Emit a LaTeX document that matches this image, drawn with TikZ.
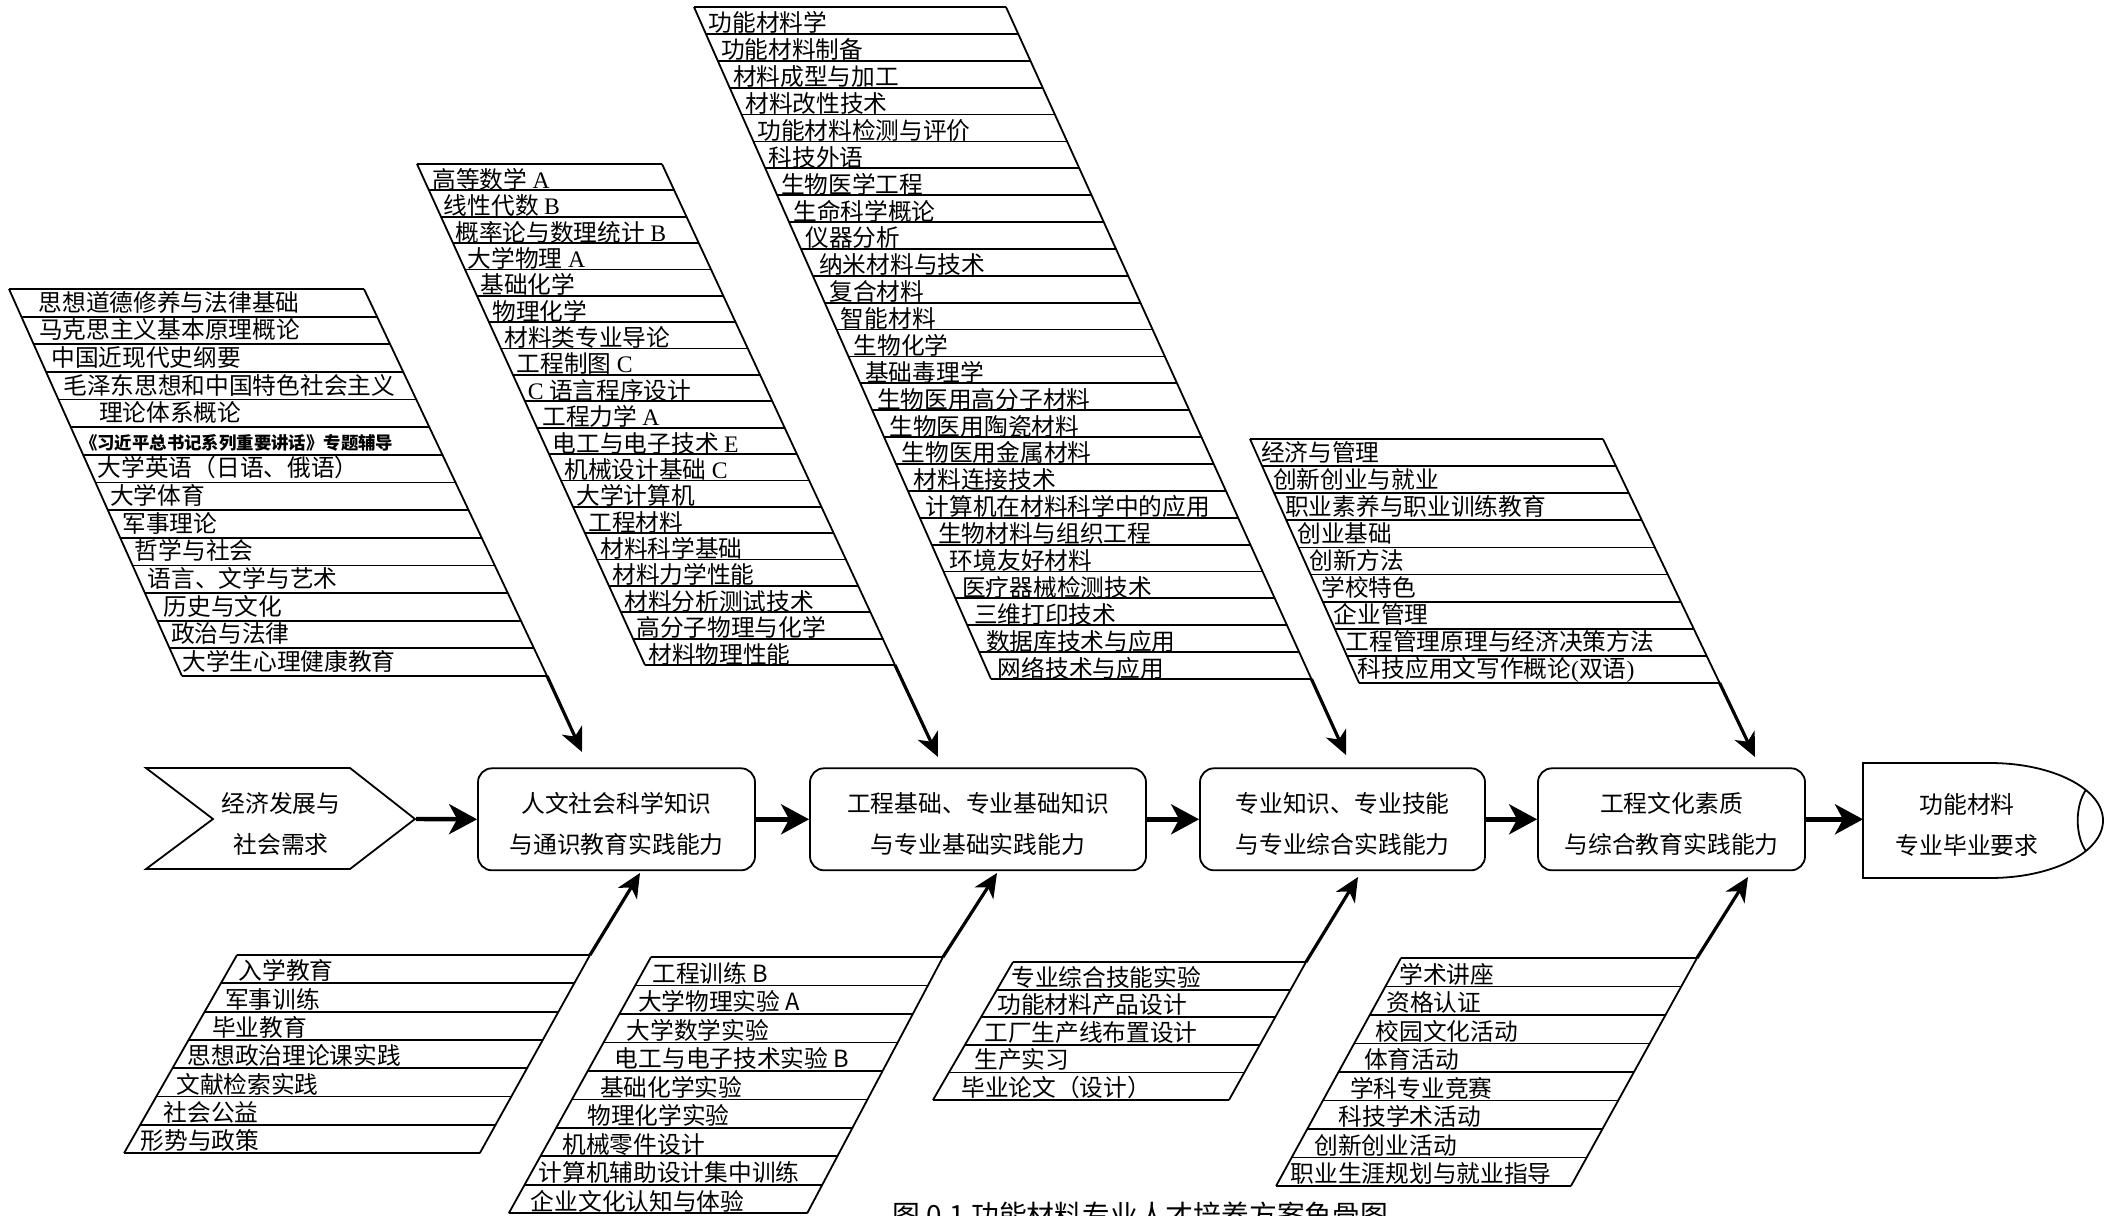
\documentclass[tikz,border=0pt]{standalone}
\usepackage{fontspec}
\setmainfont{Liberation Serif}
\newfontfamily\cjk{Noto Sans CJK SC}
\usetikzlibrary{arrows.meta}
\newcommand\lat[1]{{\rmfamily #1}}
\newcommand\gbase{3}
\newcommand\lowstrut{\rule{0pt}{14.5pt}}
% #1 name #2 TLx #3 TRx #4 ytop #5 left slope #6 right slope #7 row height #8 rows #9 list
\newcommand\TopGroup[9]{%
  \draw[edge] (#2,#4) coordinate (#1tl) -- (#3,#4) coordinate (#1tr);
  \foreach \t/\dx [count=\i] in {#9} {%
    \pgfmathsetmacro\yb{#4+\i*#7}%
    \pgfmathsetmacro\xl{#2+#5*\i*#7}%
    \pgfmathsetmacro\xr{#3+#6*\i*#7}%
    \draw[edge] (\xl,\yb) -- (\xr,\yb);
    \node[rowtxt] (#1r\i) at ({\xl+(\dx)},{\yb-\gbase}) {\t};
  }%
  \pgfmathsetmacro\yb{#4+#8*#7}%
  \pgfmathsetmacro\xl{#2+#5*#8*#7}%
  \pgfmathsetmacro\xr{#3+#6*#8*#7}%
  \draw[edge] (#1tl) -- (\xl,\yb) coordinate (#1bl);
  \draw[edge] (#1tr) -- (\xr,\yb) coordinate (#1br);
}
\newcommand\BotGroup[9]{%
  \draw[edge] (#2,#4) coordinate (#1tl) -- (#3,#4) coordinate (#1tr);
  \foreach \t/\dx [count=\i] in {#9} {%
    \pgfmathsetmacro\yb{#4+\i*#7}%
    \pgfmathsetmacro\xl{#2-#5*\i*#7}%
    \pgfmathsetmacro\xr{#3-#6*\i*#7}%
    \pgfmathsetmacro\xt{#2-#5*(\i-1)*#7}%
    \draw[edge] (\xl,\yb) -- (\xr,\yb);
    \node[rowtxt] (#1r\i) at ({\xt+(\dx)},{\yb-\gbase}) {\t};
  }%
  \pgfmathsetmacro\yb{#4+#8*#7}%
  \pgfmathsetmacro\xl{#2-#5*#8*#7}%
  \pgfmathsetmacro\xr{#3-#6*#8*#7}%
  \draw[edge] (#1tl) -- (\xl,\yb) coordinate (#1bl);
  \draw[edge] (#1tr) -- (\xr,\yb) coordinate (#1br);
}
\begin{document}
\begin{tikzpicture}[x=0.5pt,y=-0.5pt,
  edge/.style={line width=0.9pt},
  rowtxt/.style={anchor=base west, inner sep=0pt, font=\cjk\fontsize{11.85}{12}\selectfont},
  box/.style={draw, line width=0.9pt, rounded corners=7pt, align=center, inner sep=0pt,
    minimum height=51pt, font=\cjk\fontsize{11.9}{20.5}\selectfont},
  txt2/.style={align=center, inner sep=0pt, font=\cjk\fontsize{11.9}{20.5}\selectfont},
  flow/.style={line width=2.2pt, -{Stealth[length=14pt,width=15pt,inset=4pt]}},
  spine/.style={line width=1.6pt, -{Stealth[length=12pt,width=11pt,inset=3.5pt]}},
]
\useasboundingbox (0,0) rectangle (2111,1216);
\fill[white] (0,0) rectangle (2111,1216);

% ---------- main row ----------
\draw[line width=0.9pt] (146,768) -- (350,768) -- (415,819) -- (350,869) -- (146,869) -- (213,819) -- cycle;
\node[txt2] (chev) at (281,824) {经济发展与\\社会需求};
\coordinate (chevtip) at (416,819);

\node[box, minimum width=138.5pt] (b1) at (616.5,819.3) {\lowstrut 人文社会科学知识\\与通识教育实践能力};
\node[box, minimum width=168pt] (b2) at (978,819.3) {\lowstrut 工程基础、专业基础知识\\与专业基础实践能力};
\node[box, minimum width=142.5pt] (b3) at (1342.5,819.3) {\lowstrut 专业知识、专业技能\\与专业综合实践能力};
\node[box, minimum width=133.5pt] (b4) at (1671.5,819.3) {\lowstrut 工程文化素质\\与综合教育实践能力};

\draw[line width=0.9pt] (1863,763) -- (1990,763)
  .. controls (2052.4,763) and (2103,788.7) .. (2103,820.5)
  .. controls (2103,852.3) and (2052.4,878) .. (1990,878) -- (1863,878) -- cycle;
\draw[line width=0.9pt] (2085.8,790) .. controls (2075,806) and (2075,835) .. (2085.8,851);
\node[txt2] (goal) at (1967,825) {功能材料\\专业毕业要求};
\coordinate (goalw) at (1863,819.3);

\draw[flow] (chevtip) -- (b1.west);
\draw[flow] (b1.east) -- (b2.west);
\draw[flow] (b2.east) -- (b3.west);
\draw[flow] (b3.east) -- (b4.west);
\draw[flow] (b4.east) -- (goalw);

% ---------- upper groups ----------
\renewcommand\gbase{5.5}
\TopGroup{ga}{9}{364}{289}{0.447}{0.473}{27.64}{14}{%
思想道德修养与法律基础/17,%
马克思主义基本原理概论/5,%
中国近现代史纲要/5,%
毛泽东思想和中国特色社会主义/4.5,%
理论体系概论/28,%
{\bfseries\fontsize{8.7}{9}\selectfont 《习近平总书记系列重要讲话》专题辅导}/-3.5,%
大学英语（日语、俄语）/2,%
大学体育/2,%
军事理论/2,%
哲学与社会/2,%
语言、文学与艺术/2.5,%
历史与文化/6,%
政治与法律/1,%
大学生心理健康教育/0}

\renewcommand\gbase{2}
\TopGroup{gb}{417}{662}{164}{0.455}{0.465}{26.37}{19}{%
高等数学 \lat{A}/3,%
线性代数 \lat{B}/2.5,%
概率论与数理统计 \lat{B}/2,%
大学物理 \lat{A}/2.5,%
基础化学/3,%
物理化学/3,%
材料类专业导论/3,%
工程制图 \lat{C}/3.5,%
\lat{C} 语言程序设计/2.5,%
工程力学 \lat{A}/5,%
电工与电子技术 \lat{E}/3.5,%
机械设计基础 \lat{C}/3,%
大学计算机/3,%
工程材料/3,%
材料科学基础/3,%
材料力学性能/3,%
材料分析测试技术/3,%
高分子物理与化学/3,%
材料物理性能/3}

\renewcommand\gbase{2}
\TopGroup{gc}{694}{1006}{7}{0.442}{0.4545}{26.88}{25}{%
功能材料学/2.5,%
功能材料制备/3,%
材料成型与加工/3,%
材料改性技术/3.5,%
功能材料检测与评价/3.5,%
科技外语/3,%
生物医学工程/3.5,%
生命科学概论/4,%
仪器分析/4,%
纳米材料与技术/6,%
复合材料/4.5,%
智能材料/4,%
生物化学/5,%
基础毒理学/4.5,%
生物医用高分子材料/4.5,%
生物医用陶瓷材料/5,%
生物医用金属材料/5.5,%
材料连接技术/5.5,%
计算机在材料科学中的应用/5.5,%
生物材料与组织工程/6,%
环境友好材料/6,%
医疗器械检测技术/6.5,%
三维打印技术/6.5,%
数据库技术与应用/6.5,%
网络技术与应用/6.5}

\renewcommand\gbase{5}
\TopGroup{gd}{1250}{1603}{439}{0.447}{0.478}{27.1}{9}{%
经济与管理/-1.5,%
创新创业与就业/-1.5,%
职业素养与职业训练教育/-1.5,%
创业基础/-1.5,%
创新方法/-1.5,%
学校特色/-1.5,%
企业管理/-1.5,%
工程管理原理与经济决策方法/-1.5,%
科技应用文写作概论\lat{(}双语\lat{)}/-1.5}

\coordinate (gatip) at (582,752);
\coordinate (gbtip) at (938,757);
\coordinate (gctip) at (1346,755);
\coordinate (gdtip) at (1755,757);
\draw[spine] (gabr) -- (gatip);
\draw[spine] (gbbr) -- (gbtip);
\draw[spine] (gcbr) -- (gctip);
\draw[spine] (gdbr) -- (gdtip);

% ---------- lower groups ----------
\renewcommand\gbase{3.5}
\BotGroup{ha}{237}{590}{955}{0.57}{0.556}{28.3}{7}{%
入学教育/1.3,%
军事训练/4,%
毕业教育/7,%
思想政治理论课实践/-1.3,%
文献检索实践/3.5,%
社会公益/7,%
形势与政策/0}

\renewcommand\gbase{3}
\BotGroup{hb}{651}{943}{957}{0.555}{0.53}{28.48}{9}{%
工程训练 B/1,%
大学物理实验 A/2.5,%
大学数学实验/7,%
电工与电子技术实验 B/11,%
基础化学实验/12,%
物理化学实验/15,%
机械零件设计/6,%
计算机辅助设计集中训练/-2,%
企业文化认知与体验/6}

\renewcommand\gbase{3.5}
\BotGroup{hc}{1013}{1306}{962}{0.58}{0.558}{27.6}{5}{%
专业综合技能实验/-2,%
功能材料产品设计/0,%
工厂生产线布置设计/3,%
生产实习/9,%
毕业论文（设计）/12}

\renewcommand\gbase{3.5}
\BotGroup{hd}{1401}{1697}{958}{0.548}{0.553}{28.5}{8}{%
学术讲座/-2,%
资格认证/0.7,%
校园文化活动/5.5,%
体育活动/9.7,%
学科专业竞赛/11.3,%
科技学术活动/15.4,%
创新创业活动/6.8,%
职业生涯规划与就业指导/-1.2}

\coordinate (hatip) at (640,873);
\coordinate (hbtip) at (997,873);
\coordinate (hctip) at (1358,877);
\coordinate (hdtip) at (1748,877);
\draw[spine] (hatr) -- (hatip);
\draw[spine] (hbtr) -- (hbtip);
\draw[spine] (hctr) -- (hctip);
\draw[spine] (hdtr) -- (hdtip);

% ---------- caption (cut by the lower edge, as in the reference) ----------
\node[anchor=base west, inner sep=0pt, font=\cjk\fontsize{13.9}{14}\selectfont] (cap) at (892,1225) {图 0.1 功能材料专业人才培养方案鱼骨图};
\end{tikzpicture}
\end{document}
